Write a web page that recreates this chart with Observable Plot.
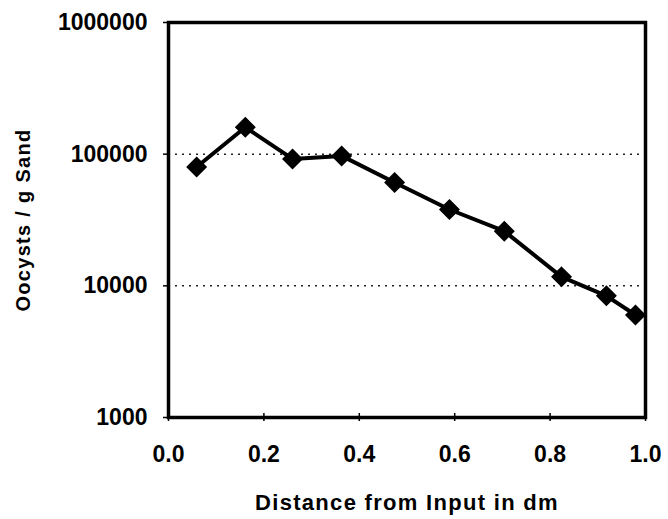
<!DOCTYPE html>
<html>
<head>
<meta charset="utf-8">
<script src="https://cdn.jsdelivr.net/npm/d3@7"></script>
<script src="https://cdn.jsdelivr.net/npm/@observablehq/plot@0.6"></script>
<style>
  html, body { margin: 0; padding: 0; background: #fff; }
</style>
</head>
<body>
<div id="chart"></div>
<script>
const distance = [0.059, 0.161, 0.26, 0.363, 0.474, 0.589, 0.704, 0.824, 0.918, 0.979];
const oocysts = [80000, 160000, 92000, 97000, 61000, 38000, 26000, 11700, 8400, 6000];
const yTicks = [1000, 10000, 100000, 1000000];
const xTicks = [0, 0.2, 0.4, 0.6, 0.8, 1.0];
const gridValues = [10000, 100000];
const xTitle = "Distance from Input in dm";
const yTitle = "Oocysts / g Sand";

const data = distance.map((d, i) => ({x: d, y: oocysts[i]}));

const chart = Plot.plot({
  width: 668,
  height: 519,
  marginLeft: 168,
  marginRight: 23,
  marginTop: 22,
  marginBottom: 102,
  style: {fontFamily: "'Liberation Sans', Arial, sans-serif", fontWeight: "bold", color: "#000", background: "#fff"},
  x: {domain: [0, 1]},
  y: {type: "log", domain: [1000, 1000000]},
  marks: [
    Plot.ruleY(gridValues, {stroke: "#222", strokeWidth: 1.5, strokeDasharray: "2,5"}),
    Plot.axisY({ticks: yTicks, tickFormat: d => String(d), tickSize: 5, tickPadding: 16, fontSize: 23, label: null, strokeWidth: 1.5}),
    Plot.axisX({ticks: xTicks, tickFormat: d => d.toFixed(1), tickSize: 4, tickPadding: 24, fontSize: 23, label: null, strokeWidth: 1.5}),
    Plot.axisX({ticks: xTicks, tickFormat: null, text: null, tickSize: -4, label: null, strokeWidth: 1.5}),
    Plot.frame({stroke: "#000", strokeWidth: 3.5}),
    Plot.line(data, {x: "x", y: "y", stroke: "#000", strokeWidth: 4}),
    Plot.dot(data, {x: "x", y: "y", symbol: "diamond2", r: 8.5, fill: "#000", stroke: "#000"}),
    Plot.text([yTitle], {text: d => d, frameAnchor: "left", dx: -145, rotate: -90, fontSize: 20, fontWeight: "bold", lineAnchor: "middle", textAnchor: "middle"}),
    Plot.text([xTitle], {text: d => d, frameAnchor: "bottom", dy: 85, fontSize: 22, fontWeight: "bold", lineAnchor: "middle", textAnchor: "middle"})
  ]
});
d3.select(chart).selectAll("g[aria-label='text'] text").style("letter-spacing", "1.3px");
document.getElementById("chart").appendChild(chart);
</script>
</body>
</html>
